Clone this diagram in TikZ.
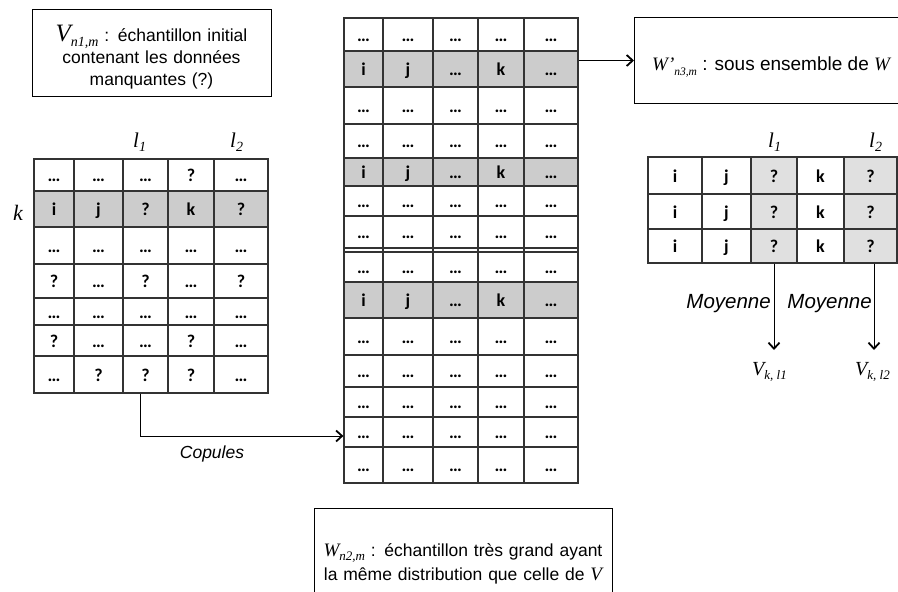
\documentclass[tikz,border=0pt]{standalone}
\usepackage{fontspec}
\setmainfont{Liberation Sans}
\newfontfamily\cellfont{Carlito}
\newfontfamily\tms{Liberation Serif}
\usetikzlibrary{arrows.meta}
\definecolor{grayA}{HTML}{CCCCCC}
\definecolor{grayB}{HTML}{E0E0E0}
\definecolor{linec}{HTML}{333333}
\newcommand\fsz[1]{\fontsize{#1}{#1}\selectfont}
\newcommand\mitx[2]{{\fsz{#1}\tms\itshape #2}}
\newcommand\msb[3]{\raisebox{-#1}{\mitx{#2}{#3}}}
\begin{document}
\begin{tikzpicture}[x=1pt,y=-1pt,
  cellbox/.style={draw=linec, line width=1.2pt, inner sep=0pt, font=\cellfont\bfseries\fsz{18}, text height=13pt, text depth=0pt},
  boxed/.style={draw=black, line width=1pt, inner sep=0pt, anchor=north west},
  txt/.style={font=\fontsize{17.5}{22}\selectfont, inner sep=0pt},
  arr/.style={line width=1pt, -{Straight Barb[length=6pt,width=11pt,line width=1.8pt]}}
]
\useasboundingbox (0,0) rectangle (898,592);
\fill[white] (0,0) rectangle (898,592);

% ---------- left table ----------
\def\LX{{34,74,123,168,214,268}}
\foreach[count=\ri] \ya/\yb/\fc/\cont in {
  159/191/white/{…,…,…,?,…},
  191/227/grayA/{i,j,?,k,?},
  227/264/white/{…,…,…,…,…},
  264/298/white/{?,…,?,…,?},
  298/325/white/{…,…,…,…,…},
  325/356/white/{?,…,…,?,…},
  356/393/white/{…,?,?,?,…}}{
  \foreach[count=\ci] \t in \cont {
    \pgfmathsetmacro\xa{\LX[\ci-1]}
    \pgfmathsetmacro\xb{\LX[\ci]}
    \pgfmathsetmacro\w{\xb-\xa}
    \pgfmathsetmacro\h{\yb-\ya}
    \node[cellbox, fill=\fc, minimum width=\w pt, minimum height=\h pt] (L-\ri-\ci) at ({(\xa+\xb)/2},{(\ya+\yb)/2}) {\t};
  }
}

% ---------- middle table ----------
\def\MX{{344,383,433,478,524,578}}
\foreach[count=\ri] \ya/\yb/\fc/\cont in {
  18/51/white/{…,…,…,…,…},
  51/87/grayA/{i,j,…,k,…},
  87/124/white/{…,…,…,…,…},
  124/158/white/{…,…,…,…,…},
  158/186/grayA/{i,j,…,k,…},
  186/216/white/{…,…,…,…,…},
  216/248/white/{…,…,…,…,…},
  252/282/white/{…,…,…,…,…},
  282/318/grayA/{i,j,…,k,…},
  318/355/white/{…,…,…,…,…},
  355/387/white/{…,…,…,…,…},
  387/417/white/{…,…,…,…,…},
  417/447/white/{…,…,…,…,…},
  447/483/white/{…,…,…,…,…}}{
  \foreach[count=\ci] \t in \cont {
    \pgfmathsetmacro\xa{\MX[\ci-1]}
    \pgfmathsetmacro\xb{\MX[\ci]}
    \pgfmathsetmacro\w{\xb-\xa}
    \pgfmathsetmacro\h{\yb-\ya}
    \node[cellbox, fill=\fc, minimum width=\w pt, minimum height=\h pt] (M-\ri-\ci) at ({(\xa+\xb)/2},{(\ya+\yb)/2}) {\t};
  }
}
\foreach \x in {344,383,433,478,524,578}
  \draw[draw=linec, line width=1.2pt] (\x,248) -- (\x,252);

% ---------- right table ----------
\def\RX{{648,702,751,797,844,897}}
\foreach[count=\ri] \ya/\yb in {157/194,194/229,229/263}{
  \foreach[count=\ci] \t/\fc in {i/white,j/white,?/grayB,k/white,?/grayB} {
    \pgfmathsetmacro\xa{\RX[\ci-1]}
    \pgfmathsetmacro\xb{\RX[\ci]}
    \pgfmathsetmacro\w{\xb-\xa}
    \pgfmathsetmacro\h{\yb-\ya}
    \node[cellbox, fill=\fc, minimum width=\w pt, minimum height=\h pt] (R-\ri-\ci) at ({(\xa+\xb)/2},{(\ya+\yb)/2}) {\t};
  }
}

% ---------- boxes ----------
\node[boxed, minimum width=239pt, minimum height=87pt] (vbox) at (32,9) {};
\node[txt, text width=236pt, align=center, anchor=base] (vtxt) at (151.5,41)
  {\mitx{25}{V}\msb{5pt}{14}{n1,m} : échantillon initial\\contenant les données\\manquantes (?)};

\node[boxed, minimum width=300pt, minimum height=86pt] (wpbox) at (634,17) {};
\node[txt, font=\fsz{19}, anchor=base west] (wptxt) at (652,70.7)
  {\mitx{19}{W’}\msb{5pt}{11.5}{n3,m} : sous ensemble de \mitx{19}{W}};

\node[boxed, minimum width=298pt, minimum height=110pt] (wnbox) at (314,508) {};
\node[txt, font=\fontsize{17.5}{24}\selectfont, text width=296pt, align=center, anchor=base] (wntxt) at (463,556.7)
  {\mitx{19}{W}\msb{4pt}{13}{n2,m} : échantillon très grand ayant\\la même distribution que celle de \mitx{19}{V}};

% ---------- labels ----------
\node[inner sep=0pt, anchor=base] (klab) at (18,220) {\mitx{22}{k}};
\node[inner sep=0pt, anchor=base west] (ll1) at (133,147) {\mitx{21}{l}\msb{4pt}{14}{1}};
\node[inner sep=0pt, anchor=base west] (ll2) at (230,147) {\mitx{21}{l}\msb{4pt}{14}{2}};
\node[inner sep=0pt, anchor=base west] (rl1) at (768,147) {\mitx{21}{l}\msb{4pt}{14}{1}};
\node[inner sep=0pt, anchor=base west] (rl2) at (869,147) {\mitx{21}{l}\msb{4pt}{14}{2}};

\node[txt, anchor=base] (cop) at (212,458) {\itshape Copules};
\node[txt, font=\fsz{20.5}, anchor=base east] (moy1) at (771,308) {\itshape Moyenne};
\node[txt, font=\fsz{20.5}, anchor=base east] (moy2) at (872,308) {\itshape Moyenne};

\node[inner sep=0pt, anchor=base west] (vk1) at (752,375) {\mitx{20}{V}\msb{4pt}{13}{k, l1}};
\node[inner sep=0pt, anchor=base west] (vk2) at (855,375) {\mitx{20}{V}\msb{4pt}{13}{k, l2}};

% ---------- connectors ----------
\coordinate (e1) at (774,350);
\coordinate (e2) at (874,350);
\draw[arr] ([xshift=-5pt]L-7-3.south) |- ([yshift=-4pt]M-13-1.west);
\draw[arr] (M-2-5.east |- wpbox.west) -- (wpbox.west);
\draw[arr] (R-3-3.south) -- (e1);
\draw[arr] (R-3-5.south -| e2) -- (e2);
\end{tikzpicture}
\end{document}
